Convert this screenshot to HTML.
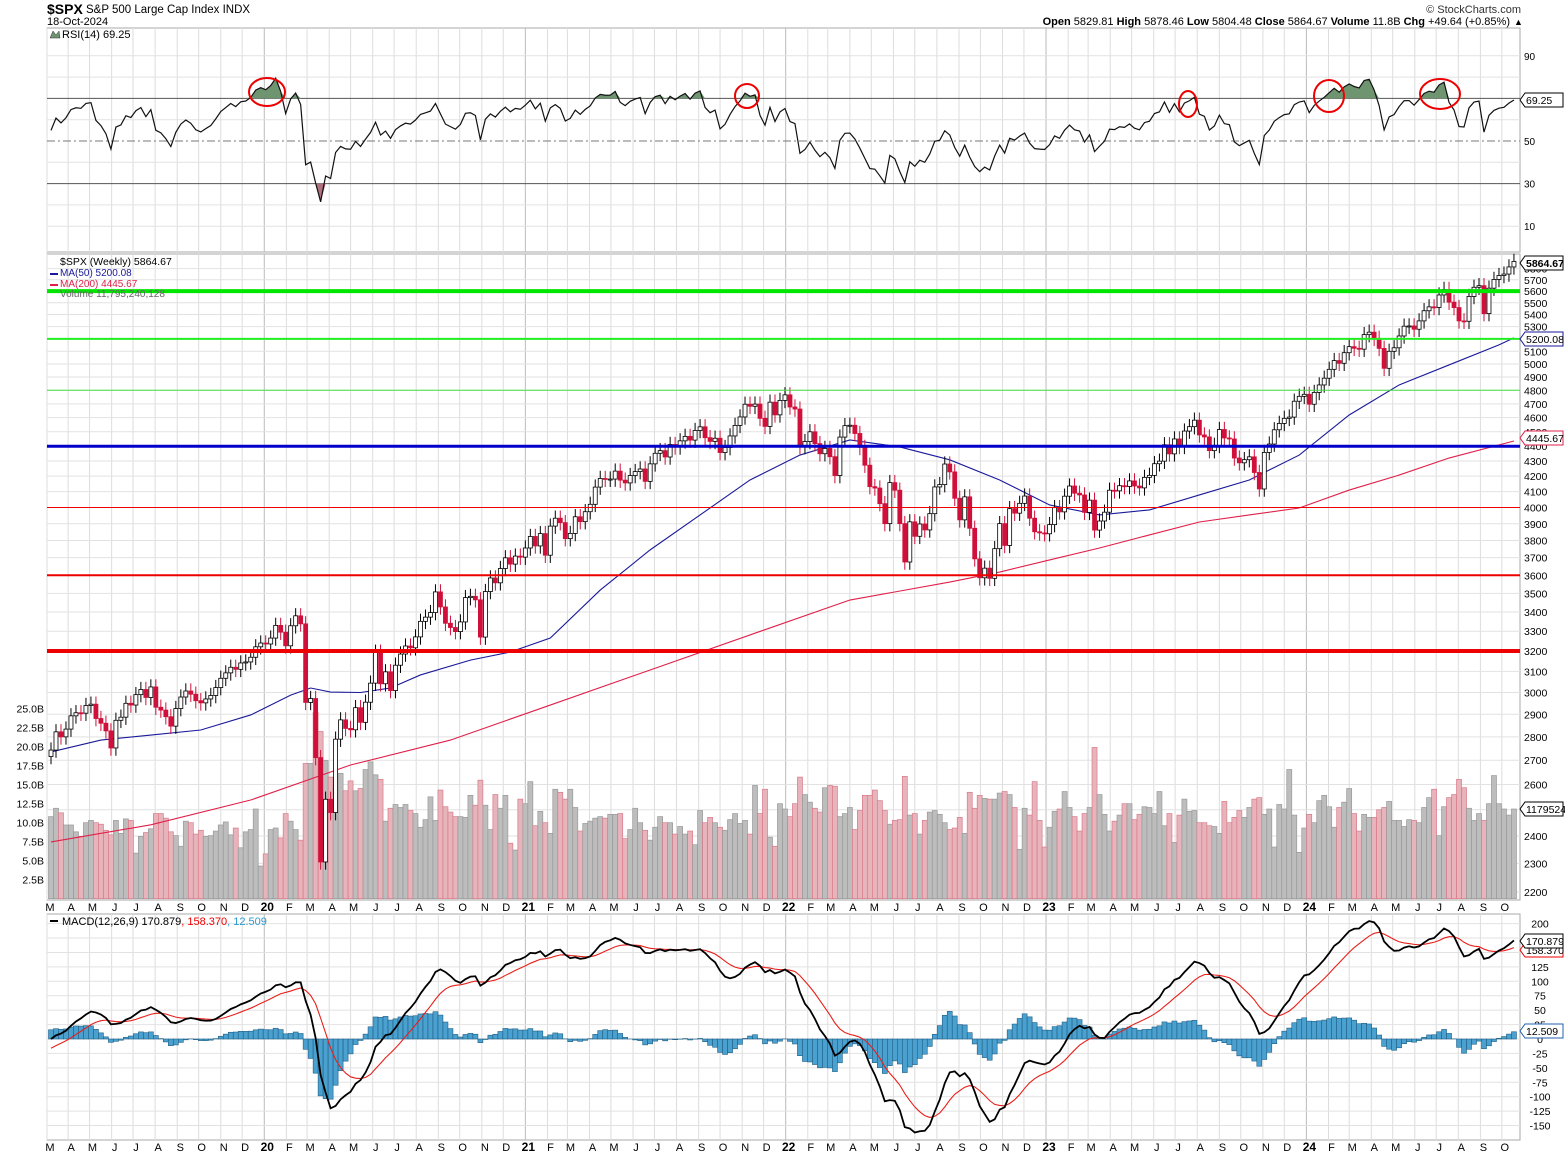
<!DOCTYPE html>
<html><head><meta charset="utf-8"><style>
body{margin:0;background:#fff;}
svg{display:block;font-family:"Liberation Sans",Arial,sans-serif;}
</style></head><body>
<svg id="chart" width="1565" height="1157" viewBox="0 0 1565 1157" xmlns="http://www.w3.org/2000/svg">
<rect x="0" y="0" width="1565" height="1157" fill="#fff"/>
<text x="47" y="14" font-size="14" font-weight="bold">$SPX</text>
<text x="86" y="13" font-size="11.5">S&amp;P 500 Large Cap Index  INDX</text>
<text x="47" y="25" font-size="11">18-Oct-2024</text>
<text x="1521" y="13" font-size="11" text-anchor="end" fill="#333">© StockCharts.com</text>
<text x="1510" y="25" font-size="11" text-anchor="end"><tspan font-weight="bold">Open</tspan> 5829.81  <tspan font-weight="bold">High</tspan> 5878.46  <tspan font-weight="bold">Low</tspan> 5804.48  <tspan font-weight="bold">Close</tspan> 5864.67  <tspan font-weight="bold">Volume</tspan> 11.8B  <tspan font-weight="bold">Chg</tspan> +49.64 (+0.85%)</text>
<text x="1514" y="25" font-size="9">▲</text>
<g id="layer"></g>
</svg>
<script>
// ---- data ----
const closes = [
2743,2822,2800,2834,2893,2907,2905,2940,2946,2881,2860,2826,2752,2873,2887,2950,2942,2990,3014,2977,3026,2932,2919,2889,2847,2926,2979,3007,2992,2962,2952,2970,2986,3023,3067,3093,3120,3110,3141,3146,3169,3221,3240,
3235,3265,3330,3295,3226,3328,3380,3338,2954,2972,2711,2305,2541,2489,2790,2875,2837,2831,2930,2864,2955,3044,3194,3041,3098,3009,3130,3185,3225,3216,3271,3351,3373,3397,3508,3427,3341,3319,3298,3348,3477,3484,3465,3270,3510,3585,3558,3638,3699,3663,3709,3703,3756,
3824,3768,3841,3714,3886,3934,3907,3811,3842,3943,3913,3974,4020,4129,4185,4180,4181,4233,4174,4156,4204,4230,4247,4166,4281,4352,4370,4327,4412,4395,4437,4468,4442,4509,4535,4459,4433,4455,4357,4391,4471,4545,4605,4697,4682,4698,4595,4538,4712,4620,4725,4766,
4677,4662,4398,4432,4500,4418,4349,4385,4329,4204,4463,4543,4546,4488,4392,4272,4132,4123,4024,3901,4158,4109,3901,3675,3912,3825,3899,3863,3962,4130,4145,4280,4228,4058,3924,4067,3873,3693,3586,3640,3583,3752,3901,3771,3993,3965,4026,4072,3934,3852,3845,3840,
3895,3999,3973,4071,4136,4090,4079,3970,4046,3862,3917,3971,4109,4105,4138,4133,4169,4136,4124,4192,4205,4282,4299,4410,4348,4450,4399,4505,4536,4582,4478,4464,4370,4406,4516,4457,4450,4320,4288,4309,4328,4224,4117,4358,4415,4514,4559,4595,4604,4719,4755,4770,
4697,4784,4840,4891,4959,5027,5006,5089,5137,5124,5117,5234,5254,5204,5123,4967,5100,5128,5223,5303,5305,5278,5347,5432,5465,5460,5567,5615,5505,5459,5347,5344,5554,5634,5648,5408,5626,5703,5738,5751,5815,5865];
const volumesB = [
10.8,11.9,11.3,9.7,9.7,8.8,8.2,10.0,10.3,10.0,9.8,9.0,8.4,10.3,8.6,10.5,10.3,6.0,8.2,8.7,9.2,11.2,11.2,10.6,8.8,8.3,6.9,10.2,10.0,8.5,9.0,8.2,8.3,8.9,9.7,10.1,8.4,9.3,6.7,8.8,9.1,11.8,4.3,5.9,9.1,9.3,8.0,11.2,10.2,9.1,7.7,17.8,17.8,24.5,22.0,18.2,16.0,14.6,16.5,14.2,15.5,14.2,14.5,17.0,18.0,16.3,15.7,10.2,
11.9,12.4,12.0,12.4,11.6,11.2,9.4,10.4,13.4,10.3,14.3,12.1,11.4,10.8,10.8,10.7,13.6,12.3,15.6,12.3,9.1,13.7,11.9,13.6,7.3,6.4,13.1,12.5,15.4,9.6,11.5,10.0,8.6,14.4,14.0,13.1,14.4,12.0,8.9,9.9,10.2,10.6,10.8,10.6,11.1,11.1,11.2,7.9,9.1,11.9,10.0,9.0,7.7,9.4,10.8,10.0,10.0,8.5,9.5,8.5,8.9,7.1,11.6,10.0,10.7,10.0,9.4,9.0,10.4,11.2,9.9,10.3,8.5,14.9,11.2,14.4,8.1,6.9,12.5,11.8,10.8,12.5,16.0,13.7,12.7,11.9,11.4,14.6,14.9,14.8,10.8,11.2,12.0,9.1,11.6,13.6,13.6,14.3,12.9,11.6,9.8,10.3,
10.4,16.1,11.0,11.2,8.5,10.3,11.4,11.6,11.1,10.0,9.1,9.3,10.7,8.6,14.0,11.9,13.6,13.2,13.1,13.1,13.9,14.1,13.7,12.0,6.5,11.9,11.0,15.4,10.3,6.8,9.4,11.5,11.8,14.1,12.0,10.8,8.9,11.2,12.0,19.9,13.7,11.1,8.9,10.2,11.0,12.5,12.5,10.4,11.1,12.1,12.0,11.2,14.1,9.6,11.2,7.4,11.0,13.1,11.5,11.6,10.0,10.0,9.6,9.5,8.6,12.8,10.0,10.7,11.6,10.7,12.0,13.1,13.3,11.1,11.8,6.8,12.4,11.8,17.0,11.0,6.1,9.3,11.1,10.0,12.9,13.6,12.1,9.4,12.0,12.7,14.5,11.2,8.9,11.1,10.7,
10.7,11.7,12.0,12.8,10.3,10.3,9.5,10.4,10.3,10.0,12.0,13.3,14.4,8.3,12.1,13.3,13.7,15.7,14.6,11.9,10.3,11.2,10.3,12.5,16.2,12.5,11.8,11.0,11.8];
// moving averages (week index -> value)
const ma50Weeks = [0,10,20,30,40,48,52,56,62,68,74,84,92,100,110,120,130,140,150,160,170,180,190,200,210,220,230,240,250,260,270,280,290,293];
const ma50Values = [2735,2786,2808,2830,2897,2988,3021,3002,3000,3021,3083,3155,3195,3265,3518,3745,3954,4175,4340,4443,4395,4308,4175,4016,3954,3985,4079,4175,4340,4619,4840,4993,5151,5208];
const ma200Weeks = [0,20,40,60,80,100,120,140,160,180,190,200,210,220,230,240,250,260,270,280,293];
const ma200Values = [2378,2442,2538,2680,2786,2942,3107,3281,3464,3562,3618,3687,3756,3833,3911,3954,3997,4110,4207,4320,4436];
const levelPrices = [5600,5200,4800,4400,4000,3600,3200];
const priceTicks = [2200,2300,2400,2500,2600,2700,2800,2900,3000,3100,3200,3300,3400,3500,3600,3700,3800,3900,4000,4100,4200,4300,4400,4500,4600,4700,4800,4900,5000,5100,5200,5300,5400,5500,5600,5700,5800];
const volTicks = [2.5,5.0,7.5,10.0,12.5,15.0,17.5,20.0,22.5,25.0];
const rsiTicks = [90,50,30,10];
const macdTicks = [200,150,125,100,75,50,25,0,-25,-50,-75,-100,-125,-150];

// ---- scales ----
const L=47,R=1520;
const xW=i=>51+i*4.993;
const yP=p=>651-Math.log(p/3200)*643;
const yV=v=>898.7-v*7.6;
const yR=r=>141-(r-50)*2.13;
const yM=v=>1039-v*0.577;
const start=new Date(2019,2,8);
const xD=d=>xW((d-start)/(7*864e5));

const NS="http://www.w3.org/2000/svg";
const layer=document.getElementById('layer');
function mk(tag,attrs,parent){const e=document.createElementNS(NS,tag);for(const k in attrs)e.setAttribute(k,attrs[k]);(parent||layer).appendChild(e);return e;}
function txt(s,attrs,parent){const e=mk('text',attrs,parent);e.textContent=s;return e;}

// panels
const panels=[[28,252],[254,900],[914,1140]];
panels.forEach((p,k)=>{
  const r=mk('rect',{x:L,y:p[0],width:R-L,height:p[1]-p[0],fill:'#fff',stroke:'#aaa','stroke-width':1});
  
  
});

// month gridlines + labels
const ml=['J','F','M','A','M','J','J','A','S','O','N','D'];
for(let y=2019;y<=2024;y++){for(let m=0;m<12;m++){
  if(y===2019&&m<2)continue; if(y===2024&&m>9)continue;
  const d=new Date(y,m,1); let x=xD(d); if(x<L)x=L;
  [[28,252],[254,900],[914,1140]].forEach(p=>{
    const g=mk('line',{x1:x,x2:x,y1:p[0],y2:p[1],stroke:m===0?'#bbb':'#ddd','stroke-width':1});
    
    
  });
  const lab=m===0?String(y).slice(2):ml[m];
  [911,1151].forEach(yy=>{
    const t=txt(lab,{x:x+3,y:yy,'font-size':m===0?12:11,'font-weight':m===0?'bold':'normal','text-anchor':'middle'});
    
    
  });
}}

// ---- RSI ----
for(let r=10;r<=90;r+=10){
  const g=mk('line',{x1:L,x2:R,y1:yR(r),y2:yR(r),stroke:(r===70||r===30)?'#555':'#e2e2e2','stroke-width':1,'stroke-dasharray':r===50?'8,3,2,3':'none'});
  if(r===50)g.setAttribute('stroke','#777');
  
  
}
rsiTicks.forEach(r=>{const t=txt(String(r),{x:1524,y:yR(r)+4,'font-size':10});
  
  });
const rsi=[];
(function(){let ch=[];for(let i=1;i<15;i++)ch.push(Math.abs(closes[i]-closes[i-1]));
 let ag=ch.reduce((a,b)=>a+b,0)/14*0.55, al=ch.reduce((a,b)=>a+b,0)/14*0.45;
 rsi.push(100-100/(1+ag/al));
 for(let i=1;i<closes.length;i++){const c=closes[i]-closes[i-1];ag=(ag*13+Math.max(c,0))/14;al=(al*13+Math.max(-c,0))/14;rsi.push(100-100/(1+ag/al));}})();
const rsiPts=rsi.map((v,i)=>[xW(i),yR(v)]);
const up=mk('path',{d:'M'+rsiPts.map(p=>p[0]+','+Math.min(p[1],yR(70))).join('L')+'L'+rsiPts[rsiPts.length-1][0]+','+yR(70)+'L'+rsiPts[0][0]+','+yR(70)+'Z',fill:'#6e9470'});


const dn=mk('path',{d:'M'+rsiPts.map(p=>p[0]+','+Math.max(p[1],yR(30))).join('L')+'L'+rsiPts[rsiPts.length-1][0]+','+yR(30)+'L'+rsiPts[0][0]+','+yR(30)+'Z',fill:'#b07080'});


const rl=mk('polyline',{points:rsiPts.map(p=>p.join(',')).join(' '),fill:'none',stroke:'#111','stroke-width':1.2});


[[267,92,18,14],[747,96,12,12],[1188,104,9,13],[1329,96,15,16],[1440,94,20,15]].forEach(c=>{
  const e=mk('ellipse',{cx:c[0],cy:c[1],rx:c[2],ry:c[3],fill:'none',stroke:'#e00','stroke-width':2});
  
  
});
const rsiLeg=txt('RSI(14) 69.25',{x:62,y:38,'font-size':11});


const rsiIcon=mk('path',{d:'M50,38 L53,31 L56,35 L59,31 L60,38Z',fill:'#6e9470',stroke:'#333','stroke-width':0.5});



// ---- price panel ----
priceTicks.forEach(p=>{
  const g=mk('line',{x1:L,x2:R,y1:yP(p),y2:yP(p),stroke:'#e2e2e2','stroke-width':1});
  
  
  const t=txt(String(p),{x:1524,y:yP(p)+4,'font-size':10.5});
  
  
});
volTicks.forEach(v=>{
  const t=txt(v.toFixed(1)+'B',{x:44,y:yV(v)+4,'font-size':10.5,'text-anchor':'end'});
  
  
});
volumesB.forEach((v,i)=>{
  const down=i>0&&closes[i]<closes[i-1];
  const b=mk('rect',{x:xW(i)-2.5,y:yV(v),width:5,height:yV(0)-yV(v),fill:down?'#e8b4bc':'#bdbdbd',stroke:down?'#d87a88':'#999','stroke-width':0.7});
  
  
});
function maLine(wk,vals,color,name){
  const l=mk('polyline',{points:wk.map((w,i)=>xW(w)+','+yP(vals[i])).join(' '),fill:'none',stroke:color,'stroke-width':1.1});
  
  
}
maLine(ma200Weeks,ma200Values,'#e0204a','ma200-line');
maLine(ma50Weeks,ma50Values,'#1a1a9a','ma50-line');
closes.forEach((c,i)=>{
  const o=i>0?closes[i-1]:c*0.99;
  const hi=Math.max(o,c)*1.012, lo=Math.min(o,c)*0.988;
  const down=c<o; const col=down?'#d0103a':'#000';
  const w=mk('line',{x1:xW(i),x2:xW(i),y1:yP(hi),y2:yP(lo),stroke:col,'stroke-width':1});
  
  
  const top=yP(Math.max(o,c)),bot=yP(Math.min(o,c));
  const b=mk('rect',{x:xW(i)-2,y:top,width:4,height:Math.max(1,bot-top),fill:down?'#d0103a':'#fff',stroke:col,'stroke-width':0.8});
  
  
});
const lvlStyle={5600:['#00e600',4],5200:['#22ee22',2],4800:['#44dd44',1],4400:['#0000cc',3],4000:['#ee0000',1],3600:['#ee0000',2],3200:['#ee0000',4]};
levelPrices.forEach(p=>{
  const l=mk('line',{x1:L,x2:R,y1:yP(p),y2:yP(p),stroke:lvlStyle[p][0],'stroke-width':lvlStyle[p][1]});
  
  
});
const pl=txt('$SPX (Weekly) 5864.67',{x:60,y:265,'font-size':10.5});


const pl2=txt('MA(50) 5200.08',{x:60,y:276,'font-size':10,fill:'#1a1a9a'});


const pl3=txt('MA(200) 4445.67',{x:60,y:287,'font-size':10,fill:'#e0204a'});


const pl4=txt('Volume 11,795,240,128',{x:60,y:297,'font-size':10,fill:'#666'});


[[1,'#1a1a9a',273],[1,'#e0204a',284]].forEach(s=>{
  const r=mk('rect',{x:50,y:s[2],width:8,height:2,fill:s[1]});
  
  
});

// ---- MACD ----
for(let v=-150;v<=200;v+=25){
  const g=mk('line',{x1:L,x2:R,y1:yM(v),y2:yM(v),stroke:'#e2e2e2','stroke-width':1});
  
  
}
macdTicks.forEach(v=>{
  const t=txt(String(v),{x:1540,y:yM(v)+4,'font-size':10.5,'text-anchor':'middle'});
  
  
});
const macd=[],sig=[];
(function(){let e12=closes[0],e26=closes[0],s=-20;const a12=2/13,a26=2/27,a9=2/10;
 closes.forEach(c=>{e12+=a12*(c-e12);e26+=a26*(c-e26);const m=e12-e26;s+=a9*(m-s);macd.push(m);sig.push(s);});})();
macd.forEach((m,i)=>{
  const h=m-sig[i];
  const b=mk('rect',{x:xW(i)-2.5,y:Math.min(yM(h),yM(0)),width:5,height:Math.abs(yM(h)-yM(0)),fill:'#4aa0cf',stroke:'#1f5f85','stroke-width':0.6});
  
  
});
const sl=mk('polyline',{points:sig.map((v,i)=>xW(i)+','+yM(v)).join(' '),fill:'none',stroke:'#e8201a','stroke-width':1.1});


const mline=mk('polyline',{points:macd.map((v,i)=>xW(i)+','+yM(v)).join(' '),fill:'none',stroke:'#000','stroke-width':1.8});


const mlg=txt('',{x:62,y:925,'font-size':11});


mlg.innerHTML='MACD(12,26,9) 170.879<tspan fill="#e00">, 158.370</tspan><tspan fill="#2a9ad0">, 12.509</tspan>';
const mlr=mk('rect',{x:50,y:920,width:8,height:2,fill:'#000'});



// ---- value tags ----
function tag(y,label,color,bold,name){
  const g=mk('path',{d:`M1520,${y} L1525,${y-7} L1563,${y-7} L1563,${y+7} L1525,${y+7}Z`,fill:'#fff',stroke:color,'stroke-width':1});
  
  
  const t=txt(label,{x:1526,y:y+4,'font-size':10.5,'font-weight':bold?'bold':'normal',fill:'#000'});
  
  
}
tag(100,'69.25','#000',false,'rsi-last');
tag(263,'5864.67','#000',true,'price-last');
tag(339,'5200.08','#1a1a9a',false,'ma50-last');
tag(438,'4445.67','#e0204a',false,'ma200-last');
tag(809,'1179524','#000',false,'volume-last');
tag(950,'158.370','#e00',false,'signal-last');
tag(941,'170.879','#000',false,'macd-last');
tag(1031,'12.509','#2060b0',false,'histogram-last');
</script>
</body></html>
